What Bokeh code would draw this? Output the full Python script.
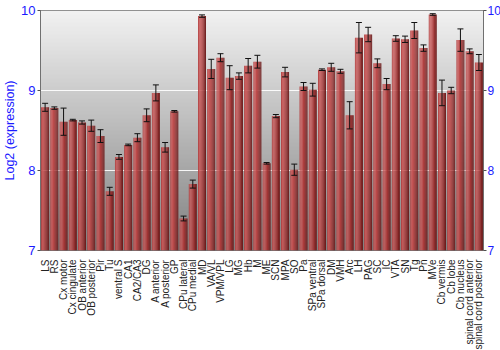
import math
from bokeh.plotting import figure
from bokeh.models import Range1d, LinearAxis, FixedTicker, Whisker, ColumnDataSource
from bokeh.embed import file_html
from bokeh.resources import INLINE

regions = ["LS", "RS", "Cx motor", "Cx cingulate", "OB anterior", "OB posterior", "Pir", "Tu",
           "ventral S", "CA1", "CA2/CA3", "DG", "A anterior", "A posterior", "GP",
           "CPu lateral", "CPu medial", "MD", "VA/VL", "VPM/VPL", "LG", "MG", "Hb", "M",
           "ME", "SCN", "MPA", "SO", "Pa", "SPa ventral", "SPa dorsal", "DM", "VMH", "Arc",
           "LH", "PAG", "SC", "IC", "VTA", "SN", "Tg", "Pn", "MVe", "Cb vermis", "Cb lobe",
           "Cb nucleus", "spinal cord anterior", "spinal cord posterior"]
expression = [8.79, 8.78, 8.61, 8.63, 8.60, 8.56, 8.43, 7.74,
              8.17, 8.32, 8.41, 8.69, 8.97, 8.29, 8.74,
              7.40, 7.83, 9.93, 9.27, 9.41, 9.16, 9.18, 9.31, 9.36,
              8.09, 8.68, 9.23, 8.01, 9.05, 9.01, 9.26, 9.29, 9.24, 8.69,
              9.66, 9.70, 9.34, 9.08, 9.65, 9.64, 9.75, 9.53, 9.95, 8.97, 9.00,
              9.63, 9.49, 9.35]
error = [0.05, 0.015, 0.17, 0.01, 0.02, 0.07, 0.08, 0.05,
         0.03, 0.01, 0.05, 0.08, 0.10, 0.06, 0.01,
         0.03, 0.05, 0.015, 0.12, 0.05, 0.15, 0.04, 0.09, 0.08,
         0.01, 0.02, 0.06, 0.07, 0.05, 0.08, 0.01, 0.05, 0.025, 0.17,
         0.19, 0.09, 0.055, 0.07, 0.035, 0.04, 0.10, 0.04, 0.01, 0.16, 0.04,
         0.14, 0.03, 0.10]
y_ticks = [7, 8, 9, 10]

n = len(regions)
xs = [i + 0.5 for i in range(n)]

p = figure(width=500, height=350, output_backend="svg", toolbar_location=None,
           x_range=Range1d(0, n), y_range=Range1d(7, 10),
           min_border_left=34, min_border_right=23, min_border_top=10, min_border_bottom=100)
p.frame_width = 443
p.frame_height = 240
p.background_fill_color = "#ffffff"
p.border_fill_color = "#ffffff"
p.outline_line_color = "#707070"
p.outline_line_width = 1

# background vertical gradient
nb = 60
step = 3 / nb
band_b = [7 + step * k for k in range(nb)]
band_t = [7 + step * (k + 1.6) if k < nb - 1 else 10 for k in range(nb)]
band_c = []
for k in range(nb):
    f = (k + 0.5) / nb
    g = int(round(0x80 + (0xf2 - 0x80) * f))
    band_c.append("#%02x%02x%02x" % (g, g, g))
p.quad(left=0, right=n, bottom=band_b, top=band_t, fill_color=band_c, line_color=None)

# white horizontal grid lines
for yv in [8, 9]:
    p.line(x=[0, n], y=[yv, yv], line_color="white", line_width=1.2, line_alpha=0.9)

# bars with horizontal shading
stripe_cols = ["#b44040", "#c85656", "#c65252", "#bc4646", "#b03a3a", "#a23030",
               "#922828", "#7e1e1e", "#6a1616"]
bw = 0.86
ns = len(stripe_cols)
sw = bw / ns
for j, c in enumerate(stripe_cols):
    off = -bw / 2 + sw * (j + 0.5)
    p.vbar(x=[x + off for x in xs], top=expression, bottom=7, width=sw * 1.05,
           fill_color=c, line_color=None)

src = ColumnDataSource(dict(x=xs, upper=[v + e for v, e in zip(expression, error)],
                            lower=[v - e for v, e in zip(expression, error)]))
w = Whisker(base="x", upper="upper", lower="lower", source=src, line_color="#111111",
            line_width=1, level="annotation")
w.upper_head.size = 6
w.lower_head.size = 6
w.upper_head.line_color = "#111111"
w.lower_head.line_color = "#111111"
p.add_layout(w)

# x axis
p.xaxis.ticker = FixedTicker(ticks=xs)
p.xaxis.major_label_overrides = {x: r for x, r in zip(xs, regions)}
p.xaxis.major_label_orientation = math.pi / 2
p.xaxis.axis_line_color = None
p.xaxis.major_tick_line_color = None
p.xaxis.minor_tick_line_color = None
p.xaxis.major_label_standoff = 3
p.xaxis.major_label_text_font = "Liberation Sans"
p.xaxis.major_label_text_font_size = "10px"
p.xaxis.major_label_text_color = "#222222"
p.xgrid.visible = False
p.ygrid.visible = False

# y axes
ax_r = LinearAxis()
p.add_layout(ax_r, "right")
for ax in p.yaxis:
    ax.ticker = FixedTicker(ticks=y_ticks)
    ax.axis_line_color = "#707070"
    ax.major_tick_line_color = "#505050"
    ax.major_tick_out = 3
    ax.major_tick_in = 0
    ax.minor_tick_line_color = None
    ax.major_label_standoff = 2
    ax.major_label_text_font = "Liberation Sans"
    ax.major_label_text_font_size = "13px"
    ax.major_label_text_color = "#1a1aff"
ax_r.major_label_standoff = 1
ax_r.major_label_text_font_size = "12px"
p.yaxis[0].axis_label = "Log2 (expression)"
p.yaxis[0].axis_label_text_font = "Liberation Sans"
p.yaxis[0].axis_label_text_font_size = "12.5px"
p.yaxis[0].axis_label_text_font_style = "normal"
p.yaxis[0].axis_label_text_color = "#1a1aff"
p.yaxis[0].axis_label_standoff = 1

open("out.html", "w").write(file_html(p, INLINE))
